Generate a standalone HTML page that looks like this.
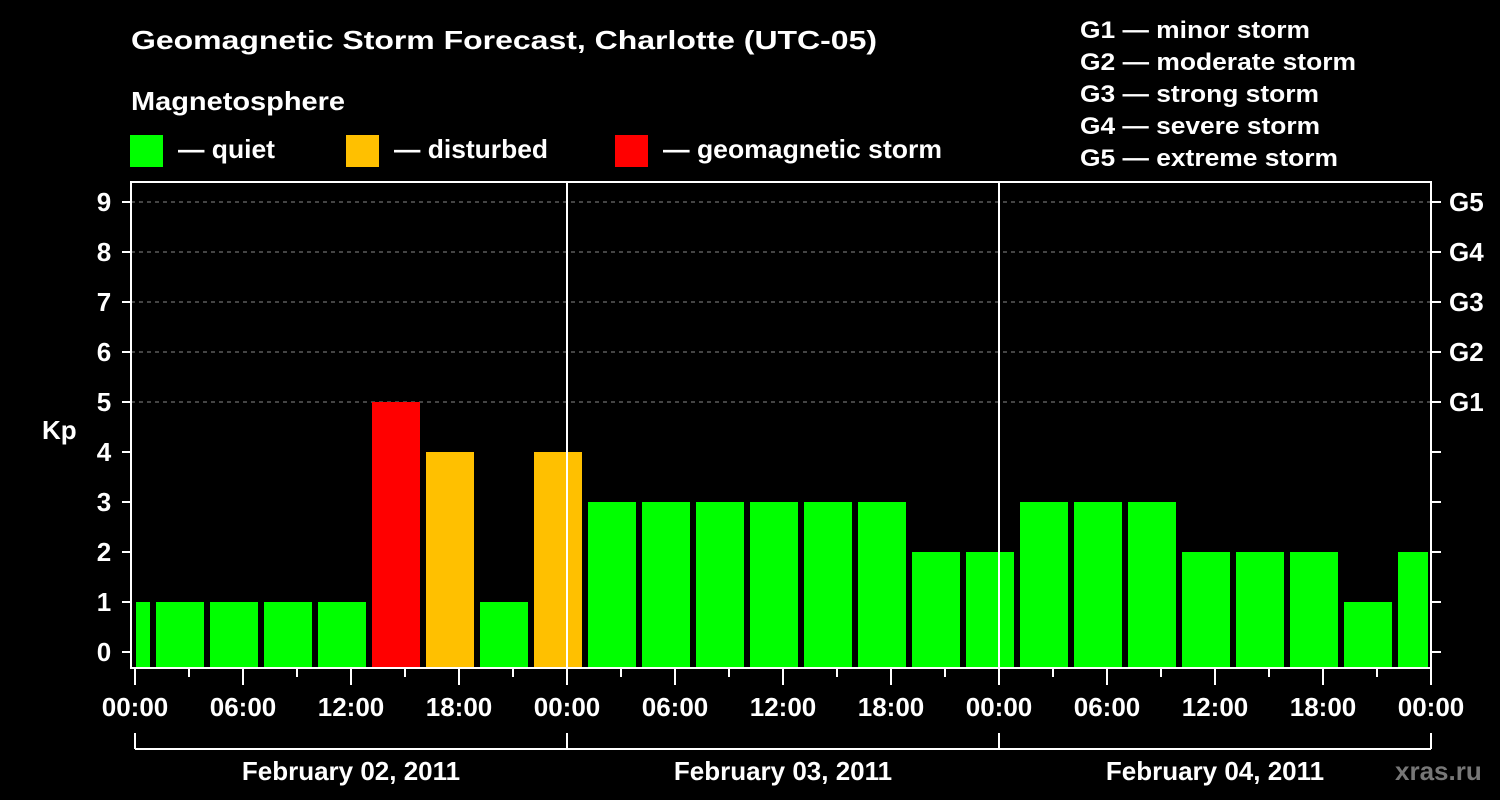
<!DOCTYPE html>
<html><head><meta charset="utf-8"><style>
html,body{margin:0;padding:0;background:#000;}
svg{display:block;font-family:"Liberation Sans",Arial,sans-serif;font-weight:bold;}
</style></head><body>
<svg id="chart" width="1500" height="800" viewBox="0 0 1500 800">
<rect x="0" y="0" width="1500" height="800" fill="#000"/>
<text x="131" y="49" fill="#fff" font-size="26" textLength="746" lengthAdjust="spacingAndGlyphs">Geomagnetic Storm Forecast, Charlotte (UTC-05)</text>
<text x="131" y="110" fill="#fff" font-size="26" textLength="214" lengthAdjust="spacingAndGlyphs">Magnetosphere</text>
<g>
<rect x="130" y="135" width="33" height="32" fill="#00ff00"/>
<text x="178" y="158" fill="#fff" font-size="26" textLength="97" lengthAdjust="spacingAndGlyphs">— quiet</text></g>
<g>
<rect x="346" y="135" width="33" height="32" fill="#ffc000"/>
<text x="394" y="158" fill="#fff" font-size="26" textLength="154" lengthAdjust="spacingAndGlyphs">— disturbed</text></g>
<g>
<rect x="615" y="135" width="33" height="32" fill="#ff0000"/>
<text x="663" y="158" fill="#fff" font-size="26" textLength="279" lengthAdjust="spacingAndGlyphs">— geomagnetic storm</text></g>
<g>
<text x="1080" y="38" fill="#fff" font-size="24" textLength="230" lengthAdjust="spacingAndGlyphs">G1 — minor storm</text>
<text x="1080" y="70" fill="#fff" font-size="24" textLength="276" lengthAdjust="spacingAndGlyphs">G2 — moderate storm</text>
<text x="1080" y="102" fill="#fff" font-size="24" textLength="239" lengthAdjust="spacingAndGlyphs">G3 — strong storm</text>
<text x="1080" y="134" fill="#fff" font-size="24" textLength="240" lengthAdjust="spacingAndGlyphs">G4 — severe storm</text>
<text x="1080" y="166" fill="#fff" font-size="24" textLength="258" lengthAdjust="spacingAndGlyphs">G5 — extreme storm</text>
</g>
<text x="42" y="439" fill="#fff" font-size="26">Kp</text>
<g id="grid"></g>
<g id="bars"></g>
<g id="axes"></g>
<text x="1395" y="780" fill="#777" font-size="26">xras.ru</text>
</svg>
<script>
// data
const kpValues = [1,1,1,1,1,5,4,1,4, 3,3,3,3,3,3,2,2, 3,3,3,2,2,2,1,2];
const slotStartHours = [-2,1,4,7,10,13,16,19,22, 25,28,31,34,37,40,43,46, 49,52,55,58,61,64,67,70];
const yTicks = [0,1,2,3,4,5,6,7,8,9];
const gLabels = ["G1","G2","G3","G4","G5"];
const gLevels = [5,6,7,8,9];
const xTickLabels = ["00:00","06:00","12:00","18:00","00:00","06:00","12:00","18:00","00:00","06:00","12:00","18:00","00:00"];
const dayLabels = ["February 02, 2011","February 03, 2011","February 04, 2011"];

const NS="http://www.w3.org/2000/svg";
const X0=135, PXH=18, PL=131, PR=1431, PT=182, PB=668;
const xs = h => X0 + h*PXH;
const ys = k => 652 - 50*k;
function mk(tag, attrs, parent){const e=document.createElementNS(NS,tag);for(const k in attrs)e.setAttribute(k,attrs[k]);parent.appendChild(e);return e;}
const grid=document.getElementById('grid'), bars=document.getElementById('bars'), axes=document.getElementById('axes');

gLevels.forEach((k,i)=>{
  const l=mk('line',{x1:PL,x2:PR,y1:ys(k),y2:ys(k),stroke:'#888','stroke-width':1,'stroke-dasharray':'4,4'},grid);
  
  
});

function color(k){return k>=5?'#ff0000':(k>=4?'#ffc000':'#00ff00');}
kpValues.forEach((k,i)=>{
  let x1=xs(slotStartHours[i])+3, x2=xs(slotStartHours[i])+51;
  x1=Math.max(x1,PL+5); x2=Math.min(x2,PR-3);
  const r=mk('rect',{x:x1,y:ys(k),width:x2-x1,height:PB-ys(k),fill:color(k)},bars);
  
  
});

// frame
const fr=mk('rect',{x:PL,y:PT,width:PR-PL,height:PB-PT,fill:'none',stroke:'#fff','stroke-width':2},axes);


[24,48].forEach(h=>{
  const l=mk('line',{x1:xs(h),x2:xs(h),y1:PT,y2:PB,stroke:'#fff','stroke-width':2},axes);
  
  
});
yTicks.forEach(k=>{
  mk('line',{x1:122,x2:PL,y1:ys(k),y2:ys(k),stroke:'#fff','stroke-width':2},axes);
  mk('line',{x1:PR,x2:1441,y1:ys(k),y2:ys(k),stroke:'#fff','stroke-width':2},axes);
  const t=mk('text',{x:104,y:ys(k)+9,fill:'#fff','font-size':26,'text-anchor':'middle'},axes);
  t.textContent=k;
  
  
});
gLabels.forEach((g,i)=>{
  const t=mk('text',{x:1449,y:ys(gLevels[i])+9,fill:'#fff','font-size':26},axes);
  t.textContent=g;
  
  
});
for(let h=0;h<=72;h+=3){
  const major=h%6===0;
  mk('line',{x1:xs(h),x2:xs(h),y1:PB,y2:major?685:677,stroke:'#fff','stroke-width':2},axes);
}
xTickLabels.forEach((s,i)=>{
  const t=mk('text',{x:xs(i*6),y:716,fill:'#fff','font-size':26,'text-anchor':'middle'},axes);
  t.textContent=s;
  
  
});
mk('line',{x1:xs(0),x2:xs(72),y1:749,y2:749,stroke:'#fff','stroke-width':2},axes);
[0,24,48,72].forEach(h=>mk('line',{x1:xs(h),x2:xs(h),y1:733,y2:749,stroke:'#fff','stroke-width':2},axes));
dayLabels.forEach((s,i)=>{
  const t=mk('text',{x:xs(i*24+12),y:780,fill:'#fff','font-size':26,'text-anchor':'middle'},axes);
  t.textContent=s;
  
  
});
</script>
</body></html>
